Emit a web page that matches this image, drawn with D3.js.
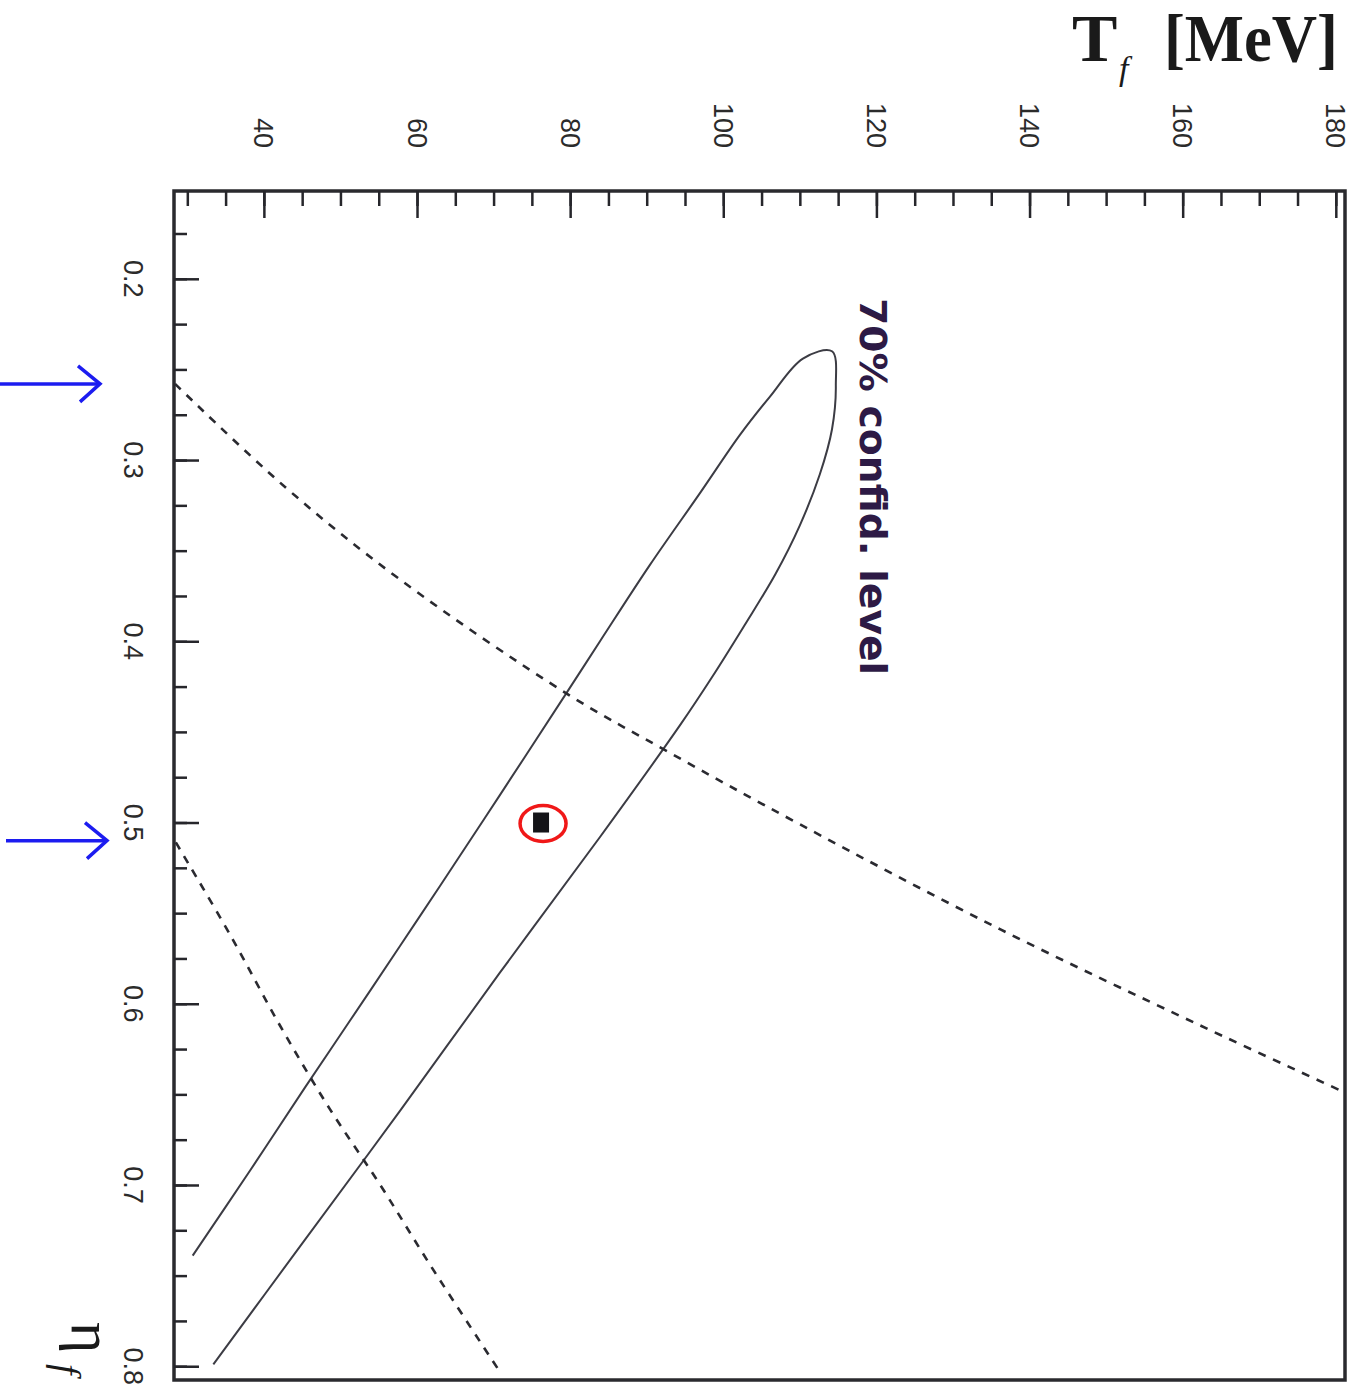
<html lang="en">
<head>
<meta charset="UTF-8">
<title>Tf vs eta_f confidence contour</title>
<script src="https://d3js.org/d3.v7.min.js"></script>
<style>
  body { margin: 0; background: #fff; }
</style>
</head>
<body>
<svg width="1354" height="1391"></svg>
<script>
    // --- data ---
    const tMajor = [40, 60, 80, 100, 120, 140, 160, 180];
    const tMinor = d3.range(30, 181, 5);
    const etaMajor = [0.2, 0.3, 0.4, 0.5, 0.6, 0.7, 0.8];
    const etaMinor = d3.range(0.175, 0.81, 0.025);

    // 70% confidence contour (T, eta), walked from lower-left end round the tip
    const contourT = [30.7, 38.2, 45.4, 51.3, 57.8, 63.0, 70.8, 79.3, 83.9, 90.4, 97.0, 102.2, 106.1, 110.4,
        114.2, 114.7, 114.2, 112.6, 110.0, 106.8, 102.8, 98.5, 94.4, 83.9, 70.8, 57.8, 44.7, 33.4];
    const contourEta = [0.739, 0.692, 0.646, 0.609, 0.568, 0.535, 0.485, 0.430, 0.400, 0.358, 0.318, 0.286,
        0.265, 0.244, 0.240, 0.259, 0.283, 0.308, 0.336, 0.363, 0.391, 0.420, 0.446, 0.508, 0.583,
        0.659, 0.734, 0.799];

    // dashed curves
    const upperT = [28.4, 42.8, 57.8, 79.6, 92.8, 110.0, 136.2, 162.3, 181.2];
    const upperEta = [0.258, 0.315, 0.366, 0.429, 0.461, 0.501, 0.559, 0.612, 0.649];
    const lowerT = [28.5, 35.6, 42.1, 48.6, 55.2, 61.7, 70.5];
    const lowerEta = [0.511, 0.562, 0.612, 0.658, 0.700, 0.744, 0.801];

    // best fit point
    const bestT = [76.2];
    const bestEta = [0.5];

    // arrows on the left pointing at eta values
    const arrowEta = [0.258, 0.51];

    const svg = d3.select("svg");

    const box = {left: 174, top: 191, right: 1345, bottom: 1380};
    const x = d3.scaleLinear().domain([28, 181.2]).range([172, 1345]);
    const y = d3.scaleLinear().domain([0.151, 0.8076]).range([190, 1380]);

    // frame
    svg.append("rect")
        .attr("x", box.left).attr("y", box.top)
        .attr("width", box.right - box.left).attr("height", box.bottom - box.top)
        .attr("fill", "none").attr("stroke", "#2a2a2e").attr("stroke-width", 3.5);

    // top ticks (pointing down into plot)
    const topMinor = svg.append("g").attr("transform", `translate(0,${box.top})`)
        .call(d3.axisBottom(x).tickValues(tMinor).tickSize(15).tickFormat(""));
    const topMajor = svg.append("g").attr("transform", `translate(0,${box.top})`)
        .call(d3.axisBottom(x).tickValues(tMajor).tickSize(27).tickFormat(""));
    // left ticks (pointing right into plot)
    const leftMinor = svg.append("g").attr("transform", `translate(${box.left},0)`)
        .call(d3.axisRight(y).tickValues(etaMinor).tickSize(13).tickFormat(""));
    const leftMajor = svg.append("g").attr("transform", `translate(${box.left},0)`)
        .call(d3.axisRight(y).tickValues(etaMajor).tickSize(25).tickFormat(""));
    [topMinor, topMajor, leftMinor, leftMajor].forEach(g => {
        g.select(".domain").remove();
        g.selectAll("line").attr("stroke", "#26262b").attr("stroke-width", 2.5);
    });

    // tick labels, rotated like the rest of the figure
    svg.append("g").selectAll("text").data(tMajor).join("text")
        .attr("transform", d => `translate(${x(d)},148) rotate(90)`)
        .attr("text-anchor", "end")
        .attr("dy", "0.35em")
        .attr("font-family", "Liberation Sans, Arial, sans-serif")
        .attr("font-size", 27)
        .attr("fill", "#2b2b2b")
        .text(d => d);

    svg.append("g").selectAll("text").data(etaMajor).join("text")
        .attr("transform", d => `translate(133,${y(d)}) rotate(90)`)
        .attr("text-anchor", "middle")
        .attr("dy", "0.35em")
        .attr("font-family", "Liberation Sans, Arial, sans-serif")
        .attr("font-size", 27)
        .attr("fill", "#2b2b2b")
        .text(d => d.toFixed(1));

    // axis titles
    svg.append("text").attr("x", 1072).attr("y", 61)
        .attr("font-family", "Liberation Serif, Times New Roman, serif")
        .attr("font-weight", "bold").attr("font-size", 68).attr("fill", "#1a1a1a")
        .text("T");
    svg.append("text").attr("x", 1119).attr("y", 80)
        .attr("font-family", "Liberation Serif, Times New Roman, serif")
        .attr("font-style", "italic").attr("font-size", 34).attr("fill", "#1a1a1a")
        .text("f");
    svg.append("text").attr("x", 1164).attr("y", 61)
        .attr("font-family", "Liberation Serif, Times New Roman, serif")
        .attr("font-weight", "bold").attr("font-size", 68).attr("fill", "#1a1a1a")
        .attr("textLength", 174).attr("lengthAdjust", "spacingAndGlyphs")
        .text("[MeV]");

    const etaLabel = svg.append("g").attr("transform", "translate(72,1322) rotate(90)");
    etaLabel.append("text")
        .attr("font-family", "Liberation Serif, Times New Roman, serif")
        .attr("font-size", 60).attr("fill", "#1a1a1a")
        .text("η");
    etaLabel.append("text").attr("x", 42).attr("y", 18)
        .attr("font-family", "Liberation Serif, Times New Roman, serif")
        .attr("font-style", "italic").attr("font-size", 38).attr("fill", "#1a1a1a")
        .text("f");

    // contour
    const line = d3.line().x(d => x(d[0])).y(d => y(d[1])).curve(d3.curveCatmullRom.alpha(0.5));
    svg.append("path")
        .datum(d3.zip(contourT, contourEta))
        .attr("d", line)
        .attr("fill", "none").attr("stroke", "#3c3c44").attr("stroke-width", 2);

    // dashed curves
    [[upperT, upperEta], [lowerT, lowerEta]].forEach(([ts, es]) => {
        svg.append("path")
            .datum(d3.zip(ts, es))
            .attr("d", line)
            .attr("fill", "none").attr("stroke", "#2a2a30").attr("stroke-width", 2.6)
            .attr("stroke-dasharray", "8,8");
    });

    // best fit point with red ring
    svg.append("g").selectAll("rect").data(d3.zip(bestT, bestEta)).join("rect")
        .attr("x", d => x(d[0]) - 8).attr("y", d => y(d[1]) - 10)
        .attr("width", 16).attr("height", 20)
        .attr("fill", "#141418");
    svg.append("g").selectAll("ellipse").data(d3.zip(bestT, bestEta)).join("ellipse")
        .attr("cx", d => x(d[0]) + 2).attr("cy", d => y(d[1]) + 1)
        .attr("rx", 23).attr("ry", 18)
        .attr("fill", "none").attr("stroke", "#f01818").attr("stroke-width", 3.5);

    // handwritten annotation
    svg.append("text")
        .attr("transform", "translate(860,298) rotate(90)")
        .attr("font-family", "DejaVu Sans, sans-serif")
        .attr("font-weight", "bold")
        .attr("font-size", 38)
        .attr("fill", "#2d1a45")
        .attr("textLength", 377).attr("lengthAdjust", "spacingAndGlyphs")
        .text("70% confid. level");

    // blue arrows
    const arrowTips = [100, 107];
    const arrows = svg.append("g").attr("stroke", "#1c1cf0").attr("stroke-width", 3.5).attr("fill", "none");
    arrowEta.forEach((e, i) => {
        const yy = y(e);
        const tip = arrowTips[i];
        arrows.append("line").attr("x1", i === 0 ? 0 : 6).attr("x2", tip - 2).attr("y1", yy).attr("y2", yy);
        arrows.append("path").attr("d", `M${tip - 22},${yy - 18} L${tip},${yy} L${tip - 20},${yy + 18}`);
    });
</script>
</body>
</html>
